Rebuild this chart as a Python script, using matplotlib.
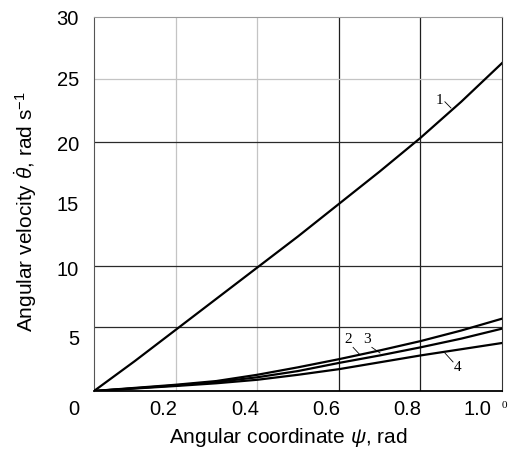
import numpy as np
import matplotlib.pyplot as plt

plt.rcParams['font.family'] = ['Liberation Sans', 'DejaVu Sans']
plt.rcParams['mathtext.fontset'] = 'custom'
plt.rcParams['mathtext.rm'] = 'Liberation Sans'
plt.rcParams['mathtext.it'] = 'Liberation Sans:italic'

# data
psi = np.array([0.0, 0.1, 0.2, 0.3, 0.4, 0.5, 0.6, 0.7, 0.8, 0.9, 1.0])
curve1 = np.array([0.0, 2.4, 4.9, 7.4, 9.9, 12.4, 15.0, 17.6, 20.3, 23.2, 26.3])
curve2 = np.array([0.0, 0.25, 0.5, 0.8, 1.3, 1.9, 2.55, 3.25, 4.0, 4.85, 5.8])
curve3 = np.array([0.0, 0.22, 0.45, 0.72, 1.1, 1.6, 2.25, 2.85, 3.5, 4.2, 5.0])
curve4 = np.array([0.0, 0.2, 0.4, 0.62, 0.9, 1.3, 1.75, 2.3, 2.85, 3.35, 3.85])

# the corner "0" is shared by both axes
xtick_labels = ['0.2', '0.4', '0.6', '0.8', '1.0']
ytick_labels = ['30', '25', '20', '15', '10', '5', '0']

# tick labels in the scan sit off their grid lines
xtick_pos = [0.169, 0.370, 0.569, 0.767, 0.941]
ytick_pos = [29.8, 24.9, 19.7, 14.9, 9.7, 4.1, -1.5]

fig = plt.figure(figsize=(5.13, 4.49), dpi=100)
ax = fig.add_axes([94/513, 1-391/449, 408/513, 374/449])
ax.set_xlim(0, 1.0)
ax.set_ylim(0, 30)

# grid: some lines faint, some dark
for x in [0.2, 0.4]:
    ax.axvline(x, color='#c4c4c4', lw=0.9, zorder=1)
for x in [0.6, 0.8]:
    ax.axvline(x, color='#1e1e1e', lw=0.9, zorder=1)
ax.axhline(25, color='#c4c4c4', lw=0.9, zorder=1)
for y in [20, 10, 5.1]:
    ax.axhline(y, color='#2a2a2a', lw=0.9, zorder=1)

for c in [curve1, curve2, curve3, curve4]:
    ax.plot(psi, c, color='black', lw=1.6, zorder=3)

ax.spines['top'].set_color('#9a9a9a')
ax.spines['left'].set_color('#555555')
ax.spines['right'].set_color('#333333')
ax.spines['bottom'].set_color('black')
ax.spines['bottom'].set_linewidth(1.3)
ax.set_xticks([])
ax.set_yticks([])

for lab, xp in zip(xtick_labels, xtick_pos):
    ax.text(xp, -1.5, lab, ha='center', va='center', fontsize=14.5, clip_on=False)
for lab, yp in zip(ytick_labels, ytick_pos):
    ax.text(-0.037, yp, lab, ha='right', va='center', fontsize=14.5, clip_on=False)

# curve labels with small leaders
serif = dict(family='Liberation Serif', fontsize=11)
ax.text(0.848, 23.3, '1', ha='center', va='center', **serif)
ax.plot([0.860, 0.875], [23.2, 22.7], color='black', lw=0.6)
ax.text(0.623, 4.1, '2', ha='center', va='center', **serif)
ax.plot([0.635, 0.652], [3.5, 2.9], color='black', lw=0.6)
ax.text(0.669, 4.1, '3', ha='center', va='center', **serif)
ax.plot([0.681, 0.701], [3.5, 3.05], color='black', lw=0.6)
ax.text(0.892, 1.85, '4', ha='center', va='center', **serif)
ax.plot([0.860, 0.880], [3.05, 2.33], color='black', lw=0.6)

fig.text(504/513, 1-405/449, '0', family='Liberation Serif', fontsize=8,
         ha='center', va='center')

fig.text(288/513, 1-443/449, r'Angular coordinate $\psi$, rad',
         ha='center', va='baseline', fontsize=15)
fig.text(26/513, 1-212/449, r'Angular velocity $\dot{\theta}$, rad s$^{-1}$',
         ha='center', va='center', rotation=90, fontsize=15)

fig.savefig('out.png', dpi=100)
